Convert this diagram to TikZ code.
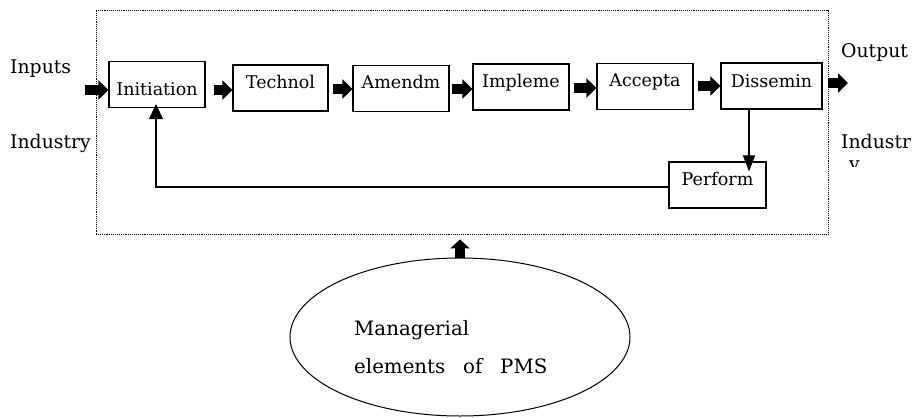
\documentclass[tikz,border=0pt]{standalone}
\usepackage{fontspec}
\setmainfont{DejaVu Serif}
\usetikzlibrary{arrows.meta,shapes.geometric}

\begin{document}
\begin{tikzpicture}[x=1pt,y=-1pt,
  stage/.style={draw, line width=1.2pt, minimum height=46pt, inner sep=0pt,
    text height=0pt, text depth=0pt, font=\fontsize{17.5}{20}\selectfont},
  fat/.style={line width=9.5pt, -{Triangle[length=10pt 0 0,width=19pt 0 0]}},
  link/.style={line width=1.1pt},
  side/.style={anchor=base west, inner sep=0pt, font=\fontsize{18.8}{22}\selectfont},
  inner/.style={anchor=base west, inner sep=0pt, font=\fontsize{19.8}{24}\selectfont}]
\useasboundingbox (0,0) rectangle (914,418);

% dotted system boundary
\node[draw, densely dotted, line width=0.9pt, minimum width=732pt,
      minimum height=224pt, inner sep=0pt] (frame) at (462,122) {};

% process stages
\node[stage, minimum width=96pt]  (init)    at (157,84.5)  {\raisebox{-10.5pt}{Initiation}};
\node[stage, minimum width=95pt]  (tech)    at (280.5,88)  {Technol};
\node[stage, minimum width=96pt]  (amend)   at (401,88.5)  {Amendm};
\node[stage, minimum width=96pt]  (impl)    at (521,87)    {Impleme};
\node[stage, minimum width=96pt]  (accept)  at (645,86.5)  {Accepta};
\node[stage, minimum width=101pt] (dissem)  at (771.5,86)  {\raisebox{-1pt}{Dissemin}};
\node[stage, minimum width=97pt]  (perform) at (717.5,185) {Perform};

% outside labels
\node[side] (inputs)      at (10,73)  {Inputs};
\node[side] (industryin)  at (10,148) {Industry};
\node[side] (output)      at (841,57) {Output};
\node[side] (industryout) at (841,148) {Industr};
\begin{scope}
  \clip (845,156) rectangle (870,166);
  \node[side] (ytail) at (849,170) {y};
\end{scope}

% managerial elements
\node[ellipse, draw, line width=1pt, minimum width=340pt, minimum height=158pt,
      inner sep=0pt] (pms) at (460,337) {};
\node[inner] (mgr)   at (354,335) {Managerial};
\node[inner] (elems) at (354,373) {elements\hspace{0.9em}of\hspace{0.9em}PMS};

% flow arrows
\coordinate (infeed) at (85,90);
\coordinate (rowa) at (0,90);
\coordinate (rowb) at (0,89);
\coordinate (rowc) at (0,88);
\coordinate (rowd) at (0,86);
\coordinate (outend) at (848,83);
\draw[fat] (infeed) -- (init.west |- infeed);
\draw[fat] (init.east |- rowa) ++(8,0) -- (tech.west |- rowa);
\draw[fat] (tech.east |- rowb) ++(4,0) -- (amend.west |- rowb);
\draw[fat] (amend.east |- rowb) ++(2,0) -- (impl.west |- rowb);
\draw[fat] (impl.east |- rowc) ++(4,0) -- (accept.west |- rowc);
\draw[fat] (accept.east |- rowd) ++(4,0) -- (dissem.west |- rowd);
\draw[fat] (dissem.east |- outend) ++(5,0) -- (outend);
\draw[fat, line width=10pt, -{Triangle[length=9pt 0 0,width=19pt 0 0]}, shorten >=5pt]
  (pms.north) -- (pms.north |- frame.south);

% feedback loop
\coordinate (drop) at (749,0);
\coordinate (fb) at (156,187);
\draw[link, -{Triangle[length=16pt 0 0,width=12pt 0 0]}, shorten >=-10pt]
  (dissem.south -| drop) -- (perform.north -| drop);
\draw[link, -{Triangle[length=15pt 0 0,width=14pt 0 0]}, shorten >=-4pt]
  (perform.west |- fb) -- (fb) -- (fb |- init.south);
\end{tikzpicture}
\end{document}
